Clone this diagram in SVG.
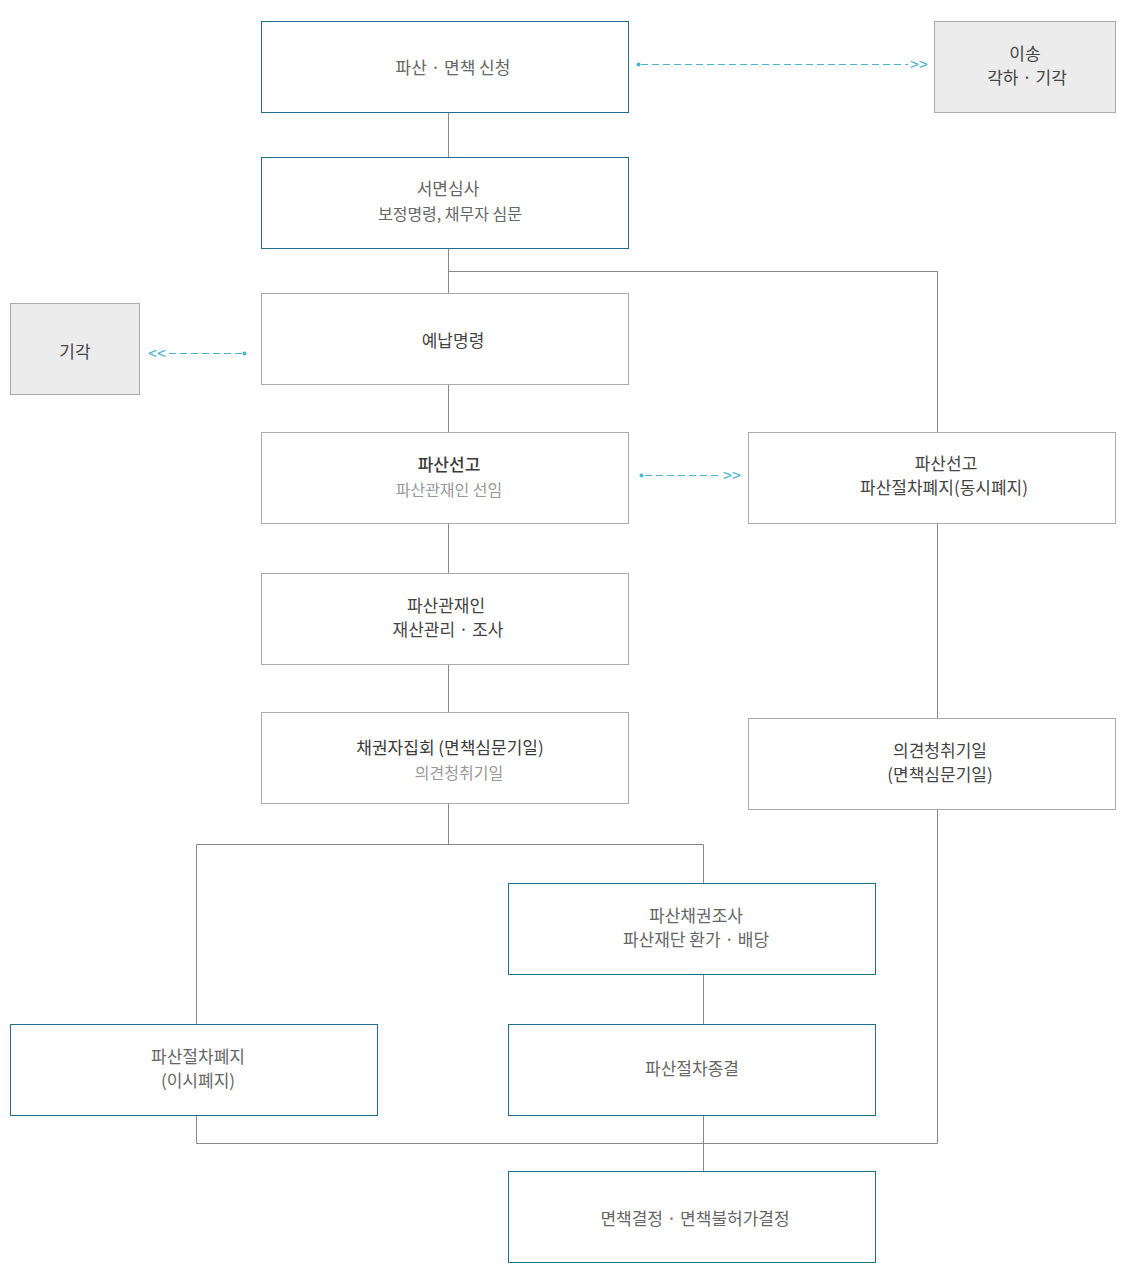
<svg xmlns="http://www.w3.org/2000/svg" width="1129" height="1287" viewBox="0 0 1129 1287">
<style>
  text { font-family: "Noto Sans CJK KR", "Noto Sans", sans-serif; font-size: 17px; text-anchor: middle; }
  .teal { fill: #fff; stroke: #1f6f8b; stroke-width: 1; }
  .gray { fill: #fff; stroke: #aaaaaa; stroke-width: 1; }
  .fill { fill: #ececec; stroke: #aaaaaa; stroke-width: 1; }
  .t1 { fill: #666; }
  .t2 { fill: #3a3a3a; }
  .sub { fill: #999; font-size: 16px; }
  .sub2 { fill: #666; font-size: 16px; }
  .conn { fill: none; stroke: #888; stroke-width: 1; }
  .dash { fill: none; stroke: #4ab3d4; stroke-width: 1; stroke-dasharray: 7 4; }
  .arr { fill: #4ab3d4; font-size: 16px; }
</style>
<g id="connectors">
  <path class="conn" d="M448.5 112 V157"/>
  <path class="conn" d="M448.5 248 V293"/>
  <path class="conn" d="M448.5 271.5 H937.5 V432"/>
  <path class="conn" d="M448.5 384 V432"/>
  <path class="conn" d="M448.5 523 V573"/>
  <path class="conn" d="M448.5 664 V712"/>
  <path class="conn" d="M448.5 803 V844.5"/>
  <path class="conn" d="M196.5 1024 V844.5 H703.5 V883"/>
  <path class="conn" d="M703.5 974 V1024"/>
  <path class="conn" d="M703.5 1115 V1171"/>
  <path class="conn" d="M937.5 523 V718"/>
  <path class="conn" d="M937.5 809 V1143.5 H196.5 V1115"/>
  <circle cx="638.5" cy="64.5" r="2" fill="#4ab3d4"/>
  <path class="dash" d="M641 64.5 H908"/>
  <text class="arr" x="919" y="70">&gt;&gt;</text>
  <circle cx="244.5" cy="353.5" r="2" fill="#4ab3d4"/>
  <path class="dash" d="M242 353.5 H167"/>
  <text class="arr" x="157" y="359">&lt;&lt;</text>
  <circle cx="641.5" cy="475.5" r="2" fill="#4ab3d4"/>
  <path class="dash" d="M645 475.5 H720"/>
  <text class="arr" x="732" y="481">&gt;&gt;</text>
</g>
<g id="n1"><rect class="teal" x="261.5" y="21.5" width="367" height="91"/><text class="t1" x="453" y="74">파산 · 면책 신청</text></g>
<g id="n2"><rect class="fill" x="934.5" y="21.5" width="181" height="91"/><text class="t2" x="1025" y="60" style="fill:#444">이송</text><text class="t2" x="1027" y="84" style="fill:#444">각하 · 기각</text></g>
<g id="n3"><rect class="teal" x="261.5" y="157.5" width="367" height="91"/><text class="t1" x="448" y="195">서면심사</text><text class="sub2" x="450" y="220">보정명령, 채무자 심문</text></g>
<g id="n4"><rect class="fill" x="10.5" y="303.5" width="129" height="91"/><text class="t2" x="75" y="358" style="fill:#444">기각</text></g>
<g id="n5"><rect class="gray" x="261.5" y="293.5" width="367" height="91"/><text class="t2" x="453" y="347" style="fill:#444">예납명령</text></g>
<g id="n6"><rect class="gray" x="261.5" y="432.5" width="367" height="91"/><text class="t2" x="449" y="471" style="font-weight:500">파산선고</text><text class="sub" x="449" y="496">파산관재인 선임</text></g>
<g id="n7"><rect class="gray" x="748.5" y="432.5" width="367" height="91"/><text class="t2" x="946" y="470" style="fill:#444">파산선고</text><text class="t2" x="944" y="494" style="fill:#444">파산절차폐지(동시폐지)</text></g>
<g id="n8"><rect class="gray" x="261.5" y="573.5" width="367" height="91"/><text class="t2" x="446" y="612" style="fill:#444">파산관재인</text><text class="t2" x="448" y="636" style="fill:#444">재산관리 · 조사</text></g>
<g id="n9"><rect class="gray" x="261.5" y="712.5" width="367" height="91"/><text class="t2" x="450" y="754">채권자집회 (면책심문기일)</text><text class="sub" x="459" y="779">의견청취기일</text></g>
<g id="n10"><rect class="gray" x="748.5" y="718.5" width="367" height="91"/><text class="t2" x="940" y="757" style="fill:#444">의견청취기일</text><text class="t2" x="940" y="781" style="fill:#444">(면책심문기일)</text></g>
<g id="n11"><rect class="teal" x="508.5" y="883.5" width="367" height="91"/><text class="t1" x="696" y="922">파산채권조사</text><text class="t1" x="696" y="946">파산재단 환가 · 배당</text></g>
<g id="n12"><rect class="teal" x="10.5" y="1024.5" width="367" height="91"/><text class="t1" x="198" y="1063">파산절차폐지</text><text class="t1" x="198" y="1087">(이시폐지)</text></g>
<g id="n13"><rect class="teal" x="508.5" y="1024.5" width="367" height="91"/><text class="t1" x="692" y="1075">파산절차종결</text></g>
<g id="n14"><rect class="teal" x="508.5" y="1171.5" width="367" height="91"/><text class="t1" x="695" y="1225">면책결정 · 면책불허가결정</text></g>
</svg>
